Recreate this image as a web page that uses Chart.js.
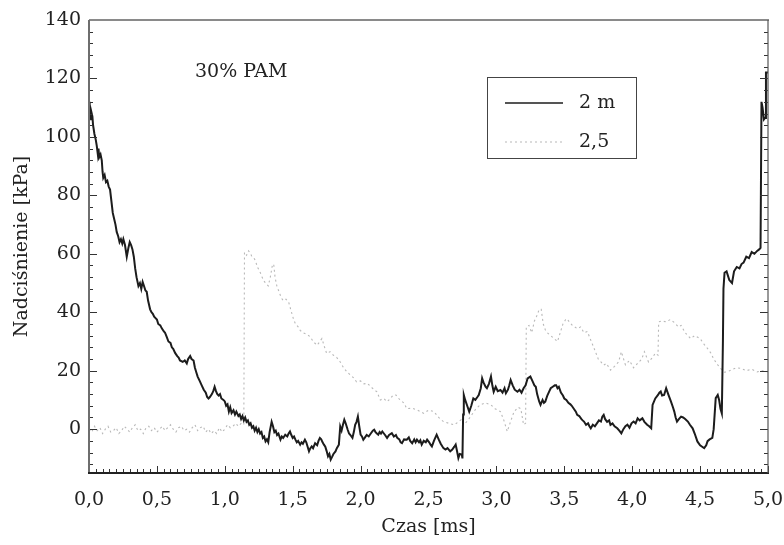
<!DOCTYPE html>
<html>
<head>
<meta charset="utf-8">
<script src="https://cdn.jsdelivr.net/npm/chart.js@4"></script>
<style>
  html, body { margin: 0; padding: 0; background: #fff; }
  #box { width: 784px; height: 545px; }
</style>
</head>
<body>
<div id="box"><canvas id="wykres"></canvas></div>
<script>
// dane (czas w ms, nadciśnienie w kPa)
const czas2m = [0.000,0.005,0.010,0.015,0.020,0.025,0.030,0.040,0.050,0.057,0.065,0.070,0.075,0.085,0.094,0.100,0.105,0.115,0.125,0.135,0.145,0.155,0.165,0.175,0.185,0.195,0.204,0.215,0.225,0.235,0.245,0.253,0.265,0.278,0.290,0.300,0.310,0.320,0.330,0.340,0.350,0.364,0.375,0.385,0.395,0.405,0.415,0.425,0.435,0.450,0.460,0.470,0.480,0.490,0.500,0.510,0.525,0.536,0.550,0.560,0.573,0.585,0.600,0.610,0.620,0.635,0.650,0.660,0.670,0.690,0.705,0.720,0.730,0.745,0.755,0.770,0.780,0.790,0.800,0.815,0.830,0.845,0.860,0.870,0.880,0.890,0.905,0.915,0.925,0.935,0.945,0.955,0.965,0.975,0.990,1.000,1.010,1.020,1.030,1.040,1.050,1.064,1.075,1.085,1.100,1.110,1.120,1.130,1.140,1.150,1.160,1.170,1.180,1.190,1.200,1.210,1.220,1.230,1.240,1.250,1.260,1.270,1.280,1.290,1.300,1.310,1.320,1.330,1.345,1.355,1.365,1.375,1.385,1.395,1.410,1.420,1.430,1.445,1.460,1.470,1.480,1.490,1.500,1.510,1.520,1.530,1.540,1.555,1.565,1.575,1.590,1.600,1.610,1.620,1.630,1.640,1.650,1.665,1.680,1.690,1.700,1.710,1.720,1.730,1.740,1.750,1.760,1.770,1.780,1.790,1.800,1.815,1.825,1.840,1.850,1.860,1.870,1.880,1.890,1.905,1.915,1.925,1.940,1.950,1.960,1.970,1.980,1.990,2.000,2.010,2.020,2.030,2.045,2.060,2.075,2.090,2.100,2.110,2.120,2.130,2.140,2.150,2.160,2.170,2.180,2.195,2.210,2.230,2.245,2.260,2.270,2.285,2.295,2.305,2.320,2.340,2.355,2.365,2.380,2.395,2.405,2.415,2.430,2.440,2.450,2.465,2.480,2.490,2.505,2.515,2.525,2.540,2.560,2.575,2.590,2.610,2.625,2.640,2.660,2.675,2.690,2.700,2.710,2.720,2.730,2.745,2.750,2.755,2.760,2.770,2.785,2.800,2.815,2.830,2.845,2.860,2.870,2.885,2.895,2.905,2.920,2.930,2.945,2.960,2.970,2.980,2.995,3.010,3.030,3.045,3.060,3.070,3.085,3.095,3.105,3.120,3.135,3.155,3.170,3.185,3.200,3.215,3.230,3.250,3.265,3.280,3.290,3.300,3.315,3.325,3.340,3.350,3.360,3.375,3.390,3.400,3.415,3.430,3.440,3.450,3.460,3.475,3.490,3.500,3.515,3.530,3.545,3.555,3.570,3.585,3.595,3.610,3.625,3.635,3.645,3.660,3.675,3.685,3.695,3.710,3.725,3.740,3.755,3.770,3.780,3.790,3.800,3.815,3.830,3.840,3.855,3.870,3.890,3.905,3.920,3.935,3.950,3.965,3.980,3.995,4.010,4.025,4.040,4.055,4.075,4.090,4.110,4.125,4.140,4.150,4.170,4.190,4.200,4.210,4.220,4.235,4.250,4.265,4.285,4.300,4.310,4.320,4.330,4.345,4.360,4.375,4.390,4.410,4.425,4.445,4.460,4.480,4.500,4.515,4.530,4.545,4.555,4.570,4.590,4.600,4.615,4.630,4.640,4.650,4.660,4.668,4.672,4.680,4.695,4.715,4.735,4.750,4.770,4.790,4.805,4.820,4.840,4.860,4.880,4.900,4.920,4.935,4.945,4.952,4.960,4.970,4.978,4.985,5.000];
const cisnienie2m = [112,108,110,106,108,107,104,101,99,97,94,96,93,94,92,88,86,87,84.5,85,83,82,78,74,72,70,67.5,66,64,65,63.5,65,63,59,62,64,63,61.5,59,55,52,49,50,48,50.4,49,47.5,47,44,41,40,39.5,38.5,38,37.5,36,35.5,34.5,33.5,33,31.5,30,29.5,28,27.5,26,25,24.5,23.5,23,23.5,22.5,24,25,24,23.5,21,19.5,18,16.5,15,13.5,12.5,11,10.5,11,12,13,14.5,13,12,11.5,12,10.5,10,9.5,8,8.5,6,7.5,5.5,6.5,5,6,4.5,5,3.5,4.5,3,4,2.5,3,1.5,2,0.5,1,-0.5,0.5,-1,0,-1.5,-1,-3,-2.5,-4.2,-3.5,-4.5,-1,2.5,1,-1,-0.5,-2,-1.5,-3.6,-2.5,-3,-1.9,-2.5,-1.5,-0.8,-2,-3,-2.5,-3.6,-4.5,-4,-5.3,-4.5,-5,-3.6,-4.5,-6,-7.6,-6.5,-5.9,-6.5,-4.8,-5.5,-4,-3,-3.5,-4.5,-5.3,-6,-7.5,-9.3,-8.5,-10.4,-9.5,-8.5,-7.6,-6.5,-5.3,0.9,-0.5,1.5,3.2,2,-0.2,-1.5,-2,-3,-1,1.5,2.5,4.3,1,-1.9,-2.5,-3.6,-3,-2,-2.5,-1.5,-0.5,-0.2,-1,-1.5,-1.9,-1,-1.5,-0.8,-1.4,-2,-3,-2,-1.4,-2.5,-2,-3,-3.5,-4.5,-4.8,-3.5,-3.6,-2.8,-4,-4.8,-3.5,-4.5,-3.6,-4.5,-3.8,-5.3,-4,-4.5,-3.6,-4.5,-5.3,-5.9,-4,-1.9,-3.5,-5,-6.5,-7,-6.5,-7.6,-7,-6,-5.3,-7.5,-9.9,-8.5,-8.7,-10,5,11.7,10,8,6,8,10.5,10,11,11.7,14,17.4,16,14.5,14,15.5,18,15,12.8,14.5,13,13.4,12.5,14,12.3,13.5,15,16.8,15,13.5,12.8,13.5,12.5,14,15,17.4,18,16.5,15,14.5,12,9.5,8.3,10,9,9.4,11.5,13,14,14.5,15,15,14,14.5,12.5,11.5,10.5,10,9,8.5,8,7,6,4.9,4.5,3.5,3,2.6,1.5,2,1,0.3,1.5,1,2,3,2.6,4.3,4.9,3.5,2.5,3,1.5,2,1,0.3,-0.5,-1.4,0,1,1.5,0.5,2,2.6,2,3.7,3,3.7,2.5,1.5,1,0.3,8.3,10.5,11.7,12.5,12.9,11.5,11.7,14,12,9.5,7.5,6,4,2.6,3.5,4.3,4,3.5,2.6,1.5,0.3,-1.5,-4.2,-5.5,-6,-6.5,-5.5,-4.1,-3.5,-3,0,10.6,11.7,10,7,5.4,30,48,53.5,54,51,50,54,55.5,55,56.5,57,59,58.5,60.6,60,61,61.5,62,112,110,106,106.5,122,122];

const czas25 = [0.000,0.020,0.040,0.060,0.080,0.100,0.120,0.140,0.160,0.180,0.200,0.220,0.240,0.260,0.280,0.300,0.320,0.340,0.360,0.380,0.400,0.420,0.440,0.460,0.480,0.500,0.520,0.540,0.560,0.580,0.600,0.620,0.640,0.660,0.680,0.700,0.720,0.740,0.760,0.780,0.800,0.820,0.840,0.860,0.880,0.900,0.920,0.940,0.960,0.980,1.000,1.020,1.040,1.060,1.080,1.100,1.120,1.140,1.145,1.160,1.175,1.190,1.200,1.215,1.225,1.240,1.260,1.275,1.285,1.300,1.320,1.335,1.350,1.360,1.370,1.385,1.400,1.415,1.430,1.450,1.470,1.485,1.505,1.520,1.540,1.555,1.575,1.600,1.630,1.650,1.680,1.700,1.715,1.735,1.750,1.775,1.800,1.825,1.850,1.875,1.900,1.925,1.950,1.970,2.000,2.025,2.050,2.075,2.100,2.120,2.145,2.170,2.195,2.220,2.240,2.260,2.290,2.320,2.340,2.380,2.420,2.440,2.465,2.500,2.540,2.575,2.610,2.650,2.690,2.720,2.740,2.760,2.790,2.820,2.850,2.880,2.920,2.960,2.990,3.030,3.055,3.080,3.100,3.130,3.160,3.180,3.200,3.215,3.220,3.240,3.260,3.280,3.300,3.315,3.330,3.345,3.360,3.375,3.400,3.425,3.450,3.470,3.490,3.510,3.520,3.540,3.560,3.595,3.620,3.645,3.670,3.690,3.720,3.750,3.770,3.790,3.810,3.840,3.870,3.900,3.920,3.950,3.980,4.010,4.040,4.070,4.090,4.120,4.150,4.170,4.190,4.195,4.220,4.250,4.280,4.310,4.340,4.360,4.390,4.430,4.460,4.500,4.530,4.555,4.580,4.600,4.630,4.650,4.680,4.700,4.740,4.770,4.800,4.840,4.880,4.920,4.960,5.000];
const cisnienie25 = [0,-1,1,-0.5,0.5,-1.5,0,1,-1,-0.5,0.5,-1.5,-0.5,1,0,-1,0.5,1.5,-0.5,0,-1.5,0.5,1,-0.5,0.5,-1,0,1,-0.5,0.5,1.5,0,-1,0.5,1,-0.5,0,-1,0.5,1.5,-0.5,0.5,1,-1,0,-1.5,-0.5,-1.5,0.5,-1,0,1.5,0.5,1,2,1,2,1.5,60.5,59.5,61,60,59,58.5,57.7,55.5,53.7,52,50.9,50,49,52,56,56.5,52,48.6,47,45,44,44.5,43.5,41,37.8,36,35,33.8,33,32.5,31.6,30,28.7,30,31,28,25.9,26.5,25.3,24.5,23,21,19.6,18.5,17.5,16.2,16.5,15.5,15.7,14.5,13.5,12.8,10,10.5,9.4,10.5,11.7,11.7,10,8.9,7,7.2,6.5,6,5.4,6.5,6,4,2.6,2,1.5,2.5,3.2,1.5,3,5,7,8.3,9,8.3,7,6,3,-0.8,2,6,7.5,7,1.5,2,35,35.5,33,37,39,41,41,36,34,33,32,31,30,33,36,37.5,37.8,36.5,35.5,34.4,35,33,33.4,31,27.6,24,23,21.9,22.5,20.2,21.5,23,26.5,22,23.5,21,22.5,24,26.5,23,24.5,26,25.3,36.7,37,36.7,37.5,36.5,35,35.5,33,31,32,31,29,27.6,26,24,22,20.8,19.5,19.6,20.5,21,20.8,20,20.5,19.6,20,19.6];

const etykietySerii = ['2 m', '2,5'];
const podpisyX = [0, 0.5, 1, 1.5, 2, 2.5, 3, 3.5, 4, 4.5, 5];
const podpisyY = [0, 20, 40, 60, 80, 100, 120, 140];

const czcionka = 'DejaVu Serif';

function punkty(xs, ys) {
  return xs.map((x, i) => ({ x: x, y: ys[i] }));
}

// ramka, znaczniki osi, opis i legenda
const ramka = {
  id: 'ramka',
  afterDatasetsDraw(chart) {
    const ctx = chart.ctx;
    const a = chart.chartArea;
    const sx = chart.scales.x;
    const sy = chart.scales.y;
    ctx.save();

    // znaczniki na osi Y (lewa i prawa strona, do wewnątrz)
    ctx.strokeStyle = '#333';
    ctx.lineWidth = 1;
    for (let v = -12; v <= 140; v += 4) {
      const y = Math.round(sy.getPixelForValue(v)) + 0.5;
      const len = v % 20 === 0 ? 8 : 4;
      ctx.beginPath();
      ctx.moveTo(a.left, y); ctx.lineTo(a.left + len, y);
      ctx.moveTo(a.right, y); ctx.lineTo(a.right - len, y);
      ctx.stroke();
    }
    // znaczniki na osi X
    for (let k = 0; k <= 100; k++) {
      const x = Math.round(sx.getPixelForValue(k * 0.05)) + 0.5;
      const len = k % 10 === 0 ? 7 : 4;
      ctx.beginPath();
      ctx.moveTo(x, a.bottom); ctx.lineTo(x, a.bottom - len);
      ctx.stroke();
    }

    // linie ramki
    ctx.lineWidth = 2;
    ctx.strokeStyle = '#8a8a8a';
    ctx.beginPath(); ctx.moveTo(a.left, a.top); ctx.lineTo(a.right + 1, a.top); ctx.stroke();
    ctx.strokeStyle = '#6e6e6e';
    ctx.beginPath(); ctx.moveTo(a.left, a.top); ctx.lineTo(a.left, a.bottom); ctx.stroke();
    ctx.strokeStyle = '#222';
    ctx.beginPath(); ctx.moveTo(a.left - 1, a.bottom); ctx.lineTo(a.right + 1, a.bottom); ctx.stroke();
    ctx.lineWidth = 1.2;
    ctx.strokeStyle = '#555';
    ctx.beginPath(); ctx.moveTo(a.right, a.top); ctx.lineTo(a.right, a.bottom); ctx.stroke();

    // opis
    ctx.fillStyle = '#222';
    ctx.font = '19px "' + czcionka + '"';
    ctx.textBaseline = 'middle';
    ctx.textAlign = 'left';
    ctx.fillText('30% PAM', 195, 72);

    // legenda
    ctx.lineWidth = 1;
    ctx.strokeStyle = '#444';
    ctx.strokeRect(487.5, 77.5, 149, 81);
    const ds = chart.data.datasets;
    const wiersze = [103, 142];
    ds.forEach((d, i) => {
      const y = wiersze[i];
      ctx.strokeStyle = d.borderColor;
      ctx.lineWidth = i === 0 ? 1.6 : 1.2;
      ctx.setLineDash(d.borderDash || []);
      ctx.beginPath(); ctx.moveTo(505, y); ctx.lineTo(563, y); ctx.stroke();
      ctx.setLineDash([]);
      ctx.fillStyle = '#222';
      ctx.fillText(d.label, 579, y);
    });
    ctx.restore();
  }
};

const ctx = document.getElementById('wykres');
new Chart(ctx, {
  type: 'line',
  data: {
    datasets: [
      {
        label: etykietySerii[0],
        data: punkty(czas2m, cisnienie2m),
        borderColor: '#1c1c1c',
        borderWidth: 2,
        pointRadius: 0,
        tension: 0
      },
      {
        label: etykietySerii[1],
        data: punkty(czas25, cisnienie25),
        borderColor: '#b8b8b8',
        borderWidth: 1.1,
        borderDash: [2, 3],
        pointRadius: 0,
        tension: 0
      }
    ]
  },
  options: {
    responsive: true,
    maintainAspectRatio: false,
    animation: false,
    events: [],
    layout: { padding: { left: 0, top: 20, right: 16, bottom: 0 } },
    plugins: {
      legend: { display: false },
      tooltip: { enabled: false }
    },
    scales: {
      x: {
        type: 'linear',
        min: 0,
        max: 5,
        afterBuildTicks: (s) => { s.ticks = podpisyX.map(v => ({ value: v })); },
        afterFit: (s) => { s.height = 72; s.paddingLeft = 0; s.paddingRight = 0; },
        grid: { display: false, drawTicks: false },
        border: { display: false },
        ticks: {
          padding: 16,
          color: '#222',
          font: { family: czcionka, size: 19 },
          maxRotation: 0,
          callback: (v) => v.toFixed(1).replace('.', ',')
        },
        title: {
          display: true,
          text: 'Czas [ms]',
          color: '#222',
          font: { family: czcionka, size: 19 },
          padding: { top: 0, bottom: 7 }
        }
      },
      y: {
        type: 'linear',
        min: -15,
        max: 140,
        afterBuildTicks: (s) => { s.ticks = podpisyY.map(v => ({ value: v })); },
        afterFit: (s) => { s.width = 89; },
        grid: { display: false, drawTicks: false },
        border: { display: false },
        ticks: {
          padding: 8,
          color: '#222',
          font: { family: czcionka, size: 19 },
          callback: (v) => String(v)
        },
        title: {
          display: true,
          text: 'Nadciśnienie [kPa]',
          color: '#222',
          font: { family: czcionka, size: 19 },
          padding: { top: 11, bottom: 0 }
        }
      }
    }
  },
  plugins: [ramka]
});
</script>
</body>
</html>
